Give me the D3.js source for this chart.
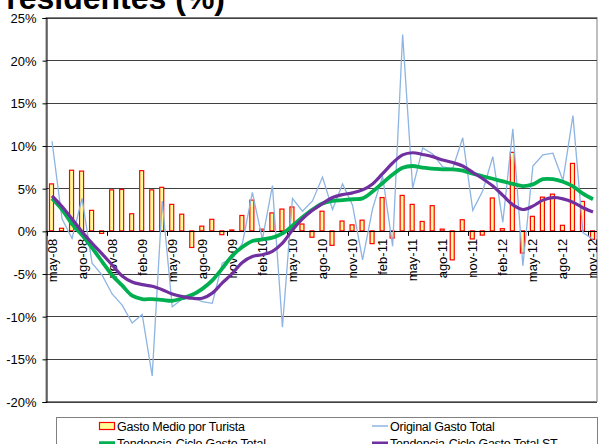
<!DOCTYPE html>
<html>
<head>
<meta charset="utf-8">
<title>Gasto turistas</title>
<script src="https://d3js.org/d3.v7.min.js"></script>
<style>
  body { margin: 0; background: #fff; }
  svg { font-family: Arial, "Liberation Sans", sans-serif; }
</style>
</head>
<body>
<svg id="chart" width="599" height="444"></svg>
<script>
// categories (months)
var meses = ["may-08","jun-08","jul-08","ago-08","sep-08","oct-08","nov-08","dic-08","ene-09","feb-09","mar-09","abr-09",
  "may-09","jun-09","jul-09","ago-09","sep-09","oct-09","nov-09","dic-09","ene-10","feb-10","mar-10","abr-10",
  "may-10","jun-10","jul-10","ago-10","sep-10","oct-10","nov-10","dic-10","ene-11","feb-11","mar-11","abr-11",
  "may-11","jun-11","jul-11","ago-11","sep-11","oct-11","nov-11","dic-11","ene-12","feb-12","mar-12","abr-12",
  "may-12","jun-12","jul-12","ago-12","sep-12","oct-12","nov-12"];

// Gasto Medio por Turista (bars)
var gastoMedio = [5.5,0.3,7.1,7.0,2.4,-0.3,4.8,4.85,2.0,7.05,4.8,5.1,
  3.1,1.95,-1.95,0.55,1.35,-0.45,0.1,1.8,3.6,0.2,2.1,2.55,
  2.8,0.8,-0.75,2.3,-1.7,1.15,0.7,1.25,-1.5,3.9,-0.85,4.15,
  3.1,1.1,2.95,0.2,-3.4,1.3,-0.95,-0.5,3.85,0.25,9.2,-2.6,
  1.7,3.95,4.3,0.65,7.9,3.45,-1.0];

// Original Gasto Total
var original = [10.5,1.4,-0.9,3.8,-3.8,-5.2,-7.4,-8.7,-10.8,-9.8,-17.0,3.5,
  -8.9,-8.0,-7.8,-8.3,-8.5,-3.8,-3.2,-1.5,4.5,-1.0,5.3,-11.3,
  3.8,2.3,3.5,6.3,2.5,5.5,3.0,-3.4,2.6,6.4,-1.8,23.0,
  5.0,9.7,9.0,7.5,7.3,10.9,2.4,4.7,8.7,1.0,11.95,-4.1,
  7.6,8.9,9.1,5.9,13.5,-0.2,-1.0];

// Tendencia-Ciclo Gasto Total
var tendencia = [3.8,2.5,0.8,-0.5,-2.0,-3.6,-5.2,-6.4,-7.6,-8.0,-8.0,-8.1,
  -8.2,-7.9,-7.5,-6.8,-5.8,-4.4,-2.9,-1.9,-1.2,-1.0,-0.8,-0.3,
  0.6,1.6,2.5,3.2,3.5,3.6,3.7,3.8,4.6,5.6,6.6,7.4,
  7.6,7.4,7.3,7.2,7.2,7.05,6.7,6.4,6.1,5.8,5.5,5.25,
  5.45,6.05,6.05,5.75,5.2,4.35,3.7];

// Tendencia-Ciclo Gasto Total ST
var tendenciaST = [4.1,2.85,1.4,-0.1,-1.45,-2.7,-4.0,-5.3,-6.0,-6.3,-6.5,-6.9,
  -7.4,-7.7,-7.9,-7.9,-7.3,-6.1,-5.0,-3.7,-3.0,-2.8,-2.4,-1.45,
  0.1,1.4,2.4,3.2,3.9,4.25,4.45,4.8,5.5,6.7,7.95,8.9,
  9.15,8.95,8.7,8.3,8.0,7.6,6.85,6.1,5.25,4.15,3.05,2.5,
  2.9,3.6,3.9,3.75,3.35,2.7,2.2];

var yTicks = [-20,-15,-10,-5,0,5,10,15,20,25];

var svg = d3.select("#chart");
var plotLeft = 46, plotRight = 597, plotTop = 17.5, plotBottom = 401.5;

var x = d3.scaleBand().domain(meses).range([plotLeft + 1, plotRight + 1]);
var y = d3.scaleLinear().domain([-20, 25]).range([plotBottom, plotTop]);
var cx = function(m) { return x(m) + x.bandwidth() / 2; };

// title (cut off at top)
svg.append("text")
  .attr("x", 225).attr("y", 9)
  .attr("text-anchor", "end")
  .style("font-size", "32px").style("font-weight", "bold")
  .text("residentes (%)");

// plot border
svg.append("rect")
  .attr("x", plotLeft).attr("y", plotTop)
  .attr("width", plotRight - plotLeft).attr("height", plotBottom - plotTop)
  .attr("fill", "none").attr("stroke", "#808080");

// gridlines
svg.append("g").selectAll("line")
  .data(yTicks)
  .enter().append("line")
  .attr("x1", plotLeft).attr("x2", plotRight)
  .attr("y1", function(d) { return Math.round(y(d)) + 0.5; })
  .attr("y2", function(d) { return Math.round(y(d)) + 0.5; })
  .attr("stroke", "#404040").attr("stroke-width", 1);

// y axis
var yAxis = d3.axisLeft(y)
  .tickValues(yTicks)
  .tickSize(4)
  .tickPadding(6)
  .tickFormat(function(d) { return d + "%"; });

var gy = svg.append("g")
  .attr("transform", "translate(" + (plotLeft + 0.5) + ",0.5)")
  .call(yAxis);
gy.select(".domain").attr("stroke", "#000");
gy.selectAll("text").style("font-size", "13px").attr("fill", "#000").attr("dy", "0.35em");

// bars
svg.append("g").selectAll("rect")
  .data(gastoMedio)
  .enter().append("rect")
  .attr("x", function(d, i) { return cx(meses[i]) - 2.5; })
  .attr("y", function(d) { return y(Math.max(0, d)); })
  .attr("width", 4)
  .attr("height", function(d) { return Math.abs(y(d) - y(0)); })
  .attr("fill", "#ffff99")
  .attr("stroke", "#ff0000")
  .attr("stroke-width", 1.2);

// x axis line at 0%
svg.append("line")
  .attr("x1", plotLeft).attr("x2", plotRight)
  .attr("y1", Math.round(y(0)) + 0.5).attr("y2", Math.round(y(0)) + 0.5)
  .attr("stroke", "#000");

// x tick marks every 6 months
svg.append("g").selectAll("line")
  .data(meses.filter(function(d, i) { return i % 6 == 0; }))
  .enter().append("line")
  .attr("x1", function(d) { return Math.round(x(d)) + 0.5; })
  .attr("x2", function(d) { return Math.round(x(d)) + 0.5; })
  .attr("y1", y(0)).attr("y2", y(0) + 5)
  .attr("stroke", "#000");

// x labels every 3 months, rotated
svg.append("g").selectAll("text")
  .data(meses.filter(function(d, i) { return i % 3 == 0; }))
  .enter().append("text")
  .attr("transform", function(d) { return "translate(" + (cx(d) + 4.5) + "," + (y(0) + 8) + ") rotate(-90)"; })
  .attr("text-anchor", "end")
  .style("font-size", "13px")
  .text(function(d) { return d; });

// lines
var straight = d3.line()
  .x(function(d, i) { return cx(meses[i]); })
  .y(function(d) { return y(d); });

var smooth = d3.line()
  .x(function(d, i) { return cx(meses[i]); })
  .y(function(d) { return y(d); })
  .curve(d3.curveCatmullRom);

svg.append("path")
  .datum(original)
  .attr("d", straight)
  .attr("fill", "none")
  .attr("stroke", "#8db4e2")
  .attr("stroke-width", 1.3);

svg.append("path")
  .datum(tendencia)
  .attr("d", smooth)
  .attr("fill", "none")
  .attr("stroke", "#00b050")
  .attr("stroke-width", 3.8);

svg.append("path")
  .datum(tendenciaST)
  .attr("d", smooth)
  .attr("fill", "none")
  .attr("stroke", "#7030a0")
  .attr("stroke-width", 3.2);

// legend
var legend = svg.append("g");
legend.append("rect")
  .attr("x", 56.5).attr("y", 417.5)
  .attr("width", 541).attr("height", 40)
  .attr("fill", "#fff").attr("stroke", "#808080");

var items = [
  { name: "Gasto Medio por Turista", type: "bar", color: "#ff0000", w: 0, lx: 99, ly: 426 },
  { name: "Original Gasto Total", type: "line", color: "#8db4e2", w: 1.5, lx: 372, ly: 426 },
  { name: "Tendencia-Ciclo Gasto Total", type: "line", color: "#00b050", w: 3.5, lx: 99, ly: 443 },
  { name: "Tendencia-Ciclo Gasto Total ST", type: "line", color: "#7030a0", w: 3, lx: 372, ly: 443 }
];

items.forEach(function(it) {
  if (it.type == "bar") {
    legend.append("rect")
      .attr("x", it.lx + 0.5).attr("y", it.ly - 3.5)
      .attr("width", 15).attr("height", 7)
      .attr("fill", "#ffff99").attr("stroke", "#ff0000").attr("stroke-width", 1.2);
  } else {
    legend.append("line")
      .attr("x1", it.lx).attr("x2", it.lx + 16)
      .attr("y1", it.ly).attr("y2", it.ly)
      .attr("stroke", it.color).attr("stroke-width", it.w);
  }
  legend.append("text")
    .attr("x", it.lx + 18).attr("y", it.ly + 4.5)
    .style("font-size", "12.5px")
    .style("letter-spacing", "-0.25px")
    .text(it.name);
});
</script>
</body>
</html>
